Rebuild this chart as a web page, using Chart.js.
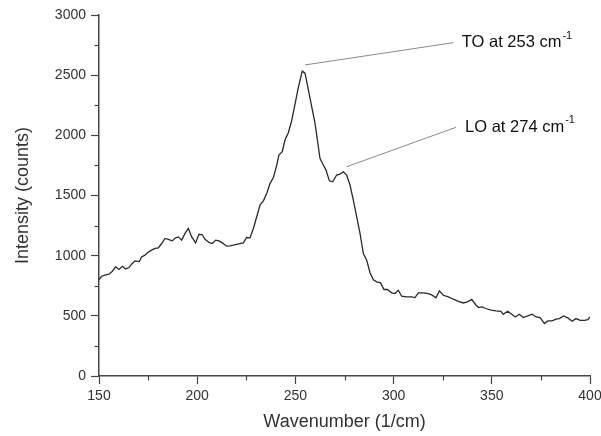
<!DOCTYPE html>
<html>
<head>
<meta charset="utf-8">
<script src="https://cdn.jsdelivr.net/npm/chart.js@4.4.0/dist/chart.umd.min.js"></script>
<style>
  html, body { margin: 0; padding: 0; background: #ffffff; }
  #wrap { width: 601px; height: 436px; }
</style>
</head>
<body>
<div id="wrap"><canvas id="c" width="601" height="436"></canvas></div>
<script>
const wavenumber = [150, 151.4, 153, 155.1, 156.8, 158.5, 160.2, 161.9, 163.6, 165.3, 166.6, 168.3, 170.5, 171.7, 173.4, 174.8, 176.8, 178.5, 180.2, 181.9, 183.6, 185.3, 187.3, 189, 190.4, 192.1, 193.8, 195.5, 197.2, 199.2, 200.9, 202.6, 204, 206, 207.7, 209.4, 211.1, 212.8, 215, 216.7, 218.4, 220.1, 221.8, 223.5, 225.2, 226.9, 228.6, 230.3, 232, 233.7, 235.4, 237.1, 238.8, 240.5, 241.6, 243.3, 244.7, 246.4, 248.1, 249.8, 251.5, 253.5, 254.9, 256.6, 258.3, 260, 261.2, 262.5, 264.2, 265.6, 267.3, 269, 271, 272.7, 274.4, 276.1, 277.8, 279.5, 281.2, 282.9, 284.6, 286.3, 288, 289.7, 291.4, 293.4, 295.1, 296.8, 299, 300.7, 302.4, 304.1, 306.6, 309.2, 310.9, 312.6, 315.1, 317.7, 319.4, 321.6, 323.3, 325.3, 327.9, 330.4, 333, 335.5, 337.6, 339.8, 341.9, 343.3, 345, 347, 349.6, 352.1, 354.7, 355.8, 358.1, 360.3, 362, 364, 366, 368.3, 370.5, 372.5, 374.6, 376.8, 378.5, 380.7, 382.7, 384.4, 386.5, 388.7, 390.9, 392.9, 395, 397.2, 398.9, 400];
const intensity = [802, 829, 838, 846, 871, 907, 885, 912, 890, 901, 929, 957, 951, 990, 1004, 1027, 1046, 1060, 1065, 1101, 1143, 1135, 1123, 1148, 1156, 1129, 1185, 1226, 1156, 1106, 1178, 1174, 1136, 1110, 1101, 1129, 1123, 1106, 1079, 1082, 1087, 1093, 1101, 1106, 1151, 1148, 1226, 1323, 1420, 1456, 1517, 1601, 1650, 1753, 1836, 1864, 1961, 2022, 2120, 2260, 2398, 2533, 2516, 2377, 2238, 2100, 1961, 1809, 1753, 1711, 1622, 1614, 1670, 1678, 1697, 1670, 1587, 1462, 1323, 1185, 1018, 962, 858, 799, 782, 774, 719, 719, 691, 685, 713, 663, 657, 657, 652, 691, 691, 685, 674, 649, 707, 671, 657, 638, 621, 607, 616, 636, 590, 569, 574, 561, 547, 541, 538, 513, 538, 511, 491, 513, 486, 499, 513, 491, 486, 436, 458, 458, 472, 477, 499, 483, 455, 477, 463, 463, 469, 491];

const xTickValues = [150, 200, 250, 300, 350, 400];
const yTickValues = [0, 500, 1000, 1500, 2000, 2500, 3000];
const xTitle = 'Wavenumber (1/cm)';
const yTitle = 'Intensity (counts)';

// annotations: line from a point near the peak to the label (data coords)
const annLabels = ['TO at 253 cm', 'LO at 274 cm'];
const annSup = ['-1', '-1'];
const annFromX = [254.9, 276.1];
const annFromY = [2585, 1739];
const annToX = [330.4, 331.8];
const annToY = [2770, 2067];
const annTextX = [334.7, 336.4];

const points = wavenumber.map((x, i) => ({ x: x, y: intensity[i] }));

const FONT = "'Liberation Sans', Arial, sans-serif";
const TEXT_COLOR = '#333333';
const AXIS_COLOR = '#444444';

const minorTicks = {
  id: 'minorTicks',
  afterDraw(chart) {
    const ctx = chart.ctx;
    const xs = chart.scales.x, ys = chart.scales.y;
    ctx.save();
    ctx.strokeStyle = AXIS_COLOR;
    ctx.lineWidth = 1.2;
    for (let i = 0; i < xTickValues.length - 1; i++) {
      const v = (xTickValues[i] + xTickValues[i + 1]) / 2;
      const px = Math.round(xs.getPixelForValue(v)) + 0.5;
      ctx.beginPath();
      ctx.moveTo(px, ys.bottom);
      ctx.lineTo(px, ys.bottom + 4.5);
      ctx.stroke();
    }
    for (let i = 0; i < yTickValues.length - 1; i++) {
      const v = (yTickValues[i] + yTickValues[i + 1]) / 2;
      const py = Math.round(ys.getPixelForValue(v)) + 0.5;
      ctx.beginPath();
      ctx.moveTo(xs.left, py);
      ctx.lineTo(xs.left - 4.5, py);
      ctx.stroke();
    }
    ctx.restore();
  }
};

const annotations = {
  id: 'peakLabels',
  afterDatasetsDraw(chart) {
    const ctx = chart.ctx;
    const xs = chart.scales.x, ys = chart.scales.y;
    ctx.save();
    for (let i = 0; i < annLabels.length; i++) {
      const x1 = xs.getPixelForValue(annFromX[i]);
      const y1 = ys.getPixelForValue(annFromY[i]);
      const x2 = xs.getPixelForValue(annToX[i]);
      const y2 = ys.getPixelForValue(annToY[i]);
      ctx.strokeStyle = '#8a8a8a';
      ctx.lineWidth = 1;
      ctx.beginPath();
      ctx.moveTo(x1, y1);
      ctx.lineTo(x2, y2);
      ctx.stroke();
      const tx = xs.getPixelForValue(annTextX[i]);
      ctx.fillStyle = '#111111';
      ctx.textBaseline = 'middle';
      ctx.textAlign = 'left';
      ctx.font = '16.5px ' + FONT;
      ctx.fillText(annLabels[i], tx, y2);
      const w = ctx.measureText(annLabels[i]).width;
      ctx.font = '11px ' + FONT;
      ctx.fillText(annSup[i], tx + w + 1, y2 - 7);
    }
    ctx.restore();
  }
};

new Chart(document.getElementById('c'), {
  type: 'line',
  data: {
    datasets: [{
      data: points,
      borderColor: '#2a2a2a',
      borderWidth: 1.3,
      pointRadius: 0,
      tension: 0,
      fill: false
    }]
  },
  options: {
    responsive: false,
    animation: false,
    devicePixelRatio: 1,
    layout: { padding: { left: 0, right: 11, top: 15, bottom: 0 } },
    plugins: { legend: { display: false }, tooltip: { enabled: false } },
    scales: {
      x: {
        type: 'linear',
        min: 150, max: 400,
        afterBuildTicks(scale) { scale.ticks = xTickValues.map(v => ({ value: v })); },
        afterFit(scale) { scale.height = 60; scale.paddingLeft = 0; scale.paddingRight = 0; },
        grid: { display: true, drawOnChartArea: false, drawTicks: true, tickLength: 8, tickWidth: 1.2, tickColor: AXIS_COLOR },
        border: { display: true, color: AXIS_COLOR, width: 1.5 },
        ticks: { color: TEXT_COLOR, font: { family: FONT, size: 14 }, padding: 4, maxRotation: 0, autoSkip: false, callback: v => String(v) },
        title: { display: true, text: xTitle, color: TEXT_COLOR, font: { family: FONT, size: 18 }, padding: { top: 0, bottom: 3 } }
      },
      y: {
        type: 'linear',
        min: 0, max: 3000,
        afterBuildTicks(scale) { scale.ticks = yTickValues.map(v => ({ value: v })); },
        afterFit(scale) { scale.width = 99; scale.paddingTop = 0; scale.paddingBottom = 0; },
        grid: { display: true, drawOnChartArea: false, drawTicks: true, tickLength: 8, tickWidth: 1.2, tickColor: AXIS_COLOR },
        border: { display: true, color: AXIS_COLOR, width: 1.5 },
        ticks: { color: TEXT_COLOR, font: { family: FONT, size: 14 }, padding: 5, autoSkip: false, callback: v => String(v) },
        title: { display: true, text: yTitle, color: TEXT_COLOR, font: { family: FONT, size: 18 }, padding: { top: 12, bottom: 0 } }
      }
    }
  },
  plugins: [minorTicks, annotations]
});
</script>
</body>
</html>
